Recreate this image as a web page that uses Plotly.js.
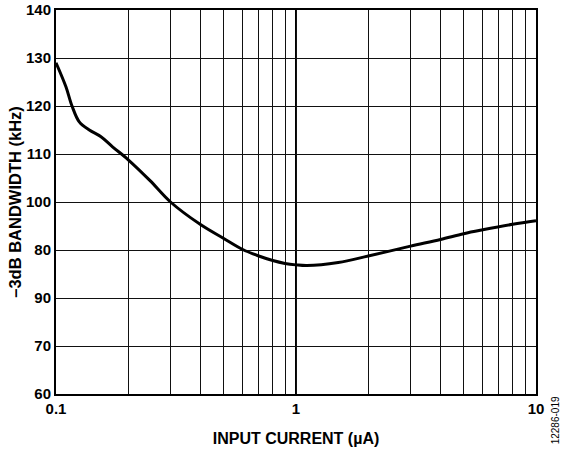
<!DOCTYPE html>
<html>
<head>
<meta charset="utf-8">
<script src="https://cdn.plot.ly/plotly-3.0.1.min.js"></script>
<style>html,body{margin:0;padding:0;background:#fff;}#chart{width:566px;height:454px;}</style>
</head>
<body>
<div id="chart"></div>
<script>
// Data
const currentUA = [0.1, 0.110, 0.1166, 0.125, 0.1377, 0.154, 0.172, 0.2, 0.246, 0.3, 0.4, 0.5, 0.6, 0.7, 0.8, 0.9, 1.0, 1.11, 1.5, 2.0, 3.0, 4.0, 5.0, 6.0, 8.0, 10.0];
const bandwidthKHz = [129.0, 124.0, 120.0, 116.7, 115.0, 113.6, 111.5, 108.8, 104.5, 100.0, 95.3, 92.4, 90.1, 88.75, 87.8, 87.2, 86.9, 86.75, 87.4, 88.75, 90.8, 92.2, 93.4, 94.2, 95.35, 96.1];

const xGridVals = [0.1,0.2,0.3,0.4,0.5,0.6,0.7,0.8,0.9,1,2,3,4,5,6,7,8,9,10];
const xGridText = ['0.1','','','','','','','','','1','','','','','','','','','10'];
const yTickVals = [60,70,80,90,100,110,120,130,140];
const yTickText = ['60','70','90','80','100','110','120','130','140'];

const font = 'Liberation Sans, Arial, sans-serif';

const trace = {
  x: currentUA, y: bandwidthKHz, type: 'scatter', mode: 'lines',
  line: {color: '#000', width: 3, shape: 'spline', smoothing: 1},
  hoverinfo: 'skip'
};

const layout = {
  width: 566, height: 454,
  margin: {l: 56, r: 30, t: 10, b: 60},
  paper_bgcolor: '#fff', plot_bgcolor: '#fff',
  showlegend: false,
  xaxis: {
    type: 'log', range: [-1, 1],
    tickmode: 'array', tickvals: xGridVals, ticktext: xGridText,
    showgrid: true, gridcolor: '#111', gridwidth: 1,
    ticks: '', zeroline: false,
    showline: true, linecolor: '#000', linewidth: 2, mirror: true,
    tickfont: {family: font, size: 15, color: '#000', weight: 'bold'},
    title: {text: '<b>INPUT CURRENT (µA)</b>', font: {family: font, size: 16, color: '#000'}, standoff: 17},
    automargin: false
  },
  yaxis: {
    range: [60, 140],
    tickmode: 'array', tickvals: yTickVals, ticktext: yTickText,
    showgrid: true, gridcolor: '#111', gridwidth: 1,
    ticks: '', zeroline: false,
    showline: true, linecolor: '#000', linewidth: 2, mirror: true,
    tickfont: {family: font, size: 15, color: '#000', weight: 'bold'},
    title: {text: '<b>–3dB BANDWIDTH (kHz)</b>', font: {family: font, size: 16.5, color: '#000'}, standoff: 0},
    automargin: false
  },
  shapes: [
    {type: 'line', xref: 'x', yref: 'paper', x0: 1, x1: 1, y0: 0, y1: 1, line: {color: '#000', width: 2}, layer: 'below'}
  ],
  annotations: [
    {text: '12286-019', xref: 'paper', yref: 'paper', x: 1.04, y: -0.068, showarrow: false, textangle: -90,
     font: {family: font, size: 10, color: '#000'}, xanchor: 'center', yanchor: 'middle'}
  ]
};

Plotly.newPlot('chart', [trace], layout, {displayModeBar: false, staticPlot: true});
</script>
</body>
</html>
